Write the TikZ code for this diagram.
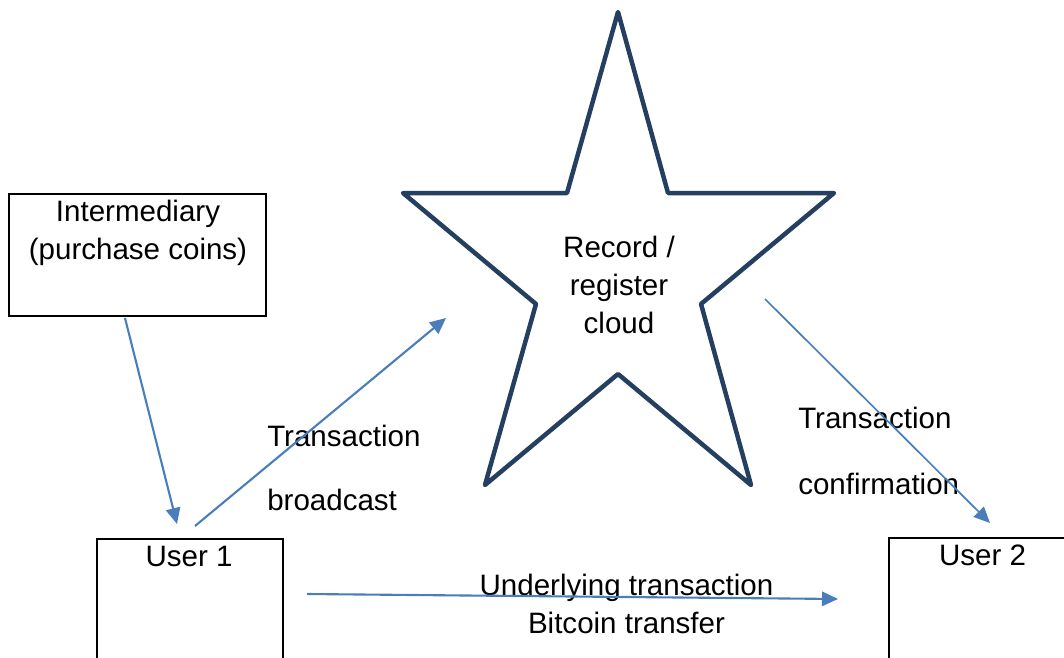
\documentclass[tikz,border=0pt]{standalone}
\usepackage{fontspec}
\setmainfont{Liberation Sans}
\usetikzlibrary{arrows.meta, positioning}
\definecolor{starblue}{HTML}{243F60}
\definecolor{arrowblue}{HTML}{4A7EBB}

\begin{document}
\begin{tikzpicture}[
  x=0.025cm, y=-0.025cm,
  font=\fontsize{21}{27}\selectfont,
  box/.style={draw, line width=0.8pt, inner sep=0pt},
  lbl/.style={inner sep=0pt, anchor=base},
  flow/.style={draw=arrowblue, line width=1.5pt,
               -{Triangle[length=0.4cm, width=0.36cm]}},
]
\useasboundingbox (0,0) rectangle (1064,657);
\clip (0,0) rectangle (1064,657);
% Star
\draw[starblue, line width=3.2pt, line join=round]
  (618,12) -- (668,193) -- (834,193) -- (701,304) -- (751,485) -- (618,374)
  -- (485,485) -- (536,304) -- (403,193) -- (567,193) -- cycle;
\node[lbl, align=center] (cloud) at (619,333) {Record /\\register\\cloud};
% Boxes
\node[box, minimum width=6.425cm, minimum height=3.05cm] (inter) at (137.5,255) {};
\node[box, minimum width=4.65cm, minimum height=4.025cm] (user1) at (190,619.5) {};
\node[box, minimum width=5.275cm, minimum height=4.05cm] (user2) at (994.5,619) {};
\node[lbl, align=center] (intertxt) at (138,259) {Intermediary\\(purchase coins)};
\node[lbl] (user1txt) at (189,566) {User 1};
\node[lbl] (user2txt) at (982.5,565) {User 2};
% Arrow labels
\node[lbl, anchor=base west, align=left] (bcast) at (267,510)
  {Transaction\\[0.65cm]broadcast};
\node[lbl, anchor=base west, align=left] (confirm) at (798,494)
  {Transaction\\[0.68cm]confirmation};
\node[lbl, align=center] (transfer) at (626.5,633)
  {Underlying transaction\\Bitcoin transfer};
% Arrow ends
\coordinate (inter-out) at (125,318);
\coordinate (user1-in) at (177,524);
\coordinate (user1-up) at (195,526);
\coordinate (cloud-in) at (446,318);
\coordinate (cloud-out) at (765,299);
\coordinate (user2-in) at (990,523);
\coordinate (user1-out) at (307,594);
\coordinate (user2-side) at (838,599);
\draw[flow] (inter-out) -- (user1-in);
\draw[flow] (user1-up) -- (cloud-in);
\draw[flow, line width=1.2pt] (cloud-out) -- (user2-in);
\draw[flow] (user1-out) -- (user2-side);
\end{tikzpicture}
\end{document}
